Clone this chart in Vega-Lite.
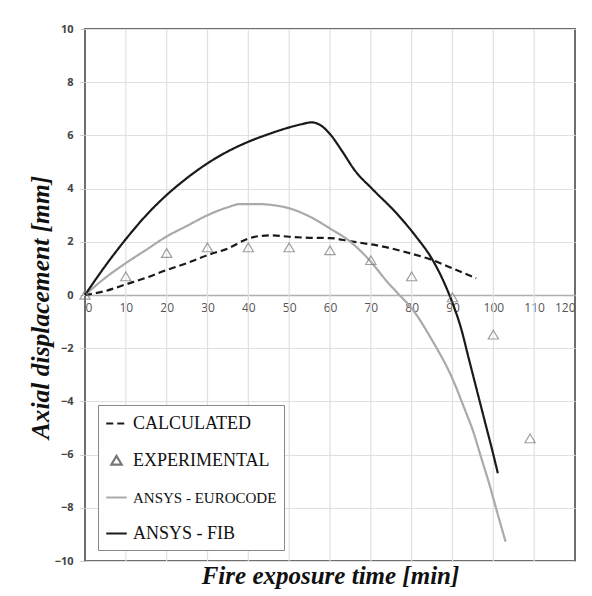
{
  "$schema": "https://vega.github.io/schema/vega-lite/v6.json",
  "width": 490,
  "height": 532,
  "autosize": {"type": "none"},
  "padding": {"left": 85, "top": 29, "right": 17, "bottom": 35},
  "background": "white",
  "config": {
    "view": {"stroke": "#6e6e6e", "strokeWidth": 2},
    "axis": {"gridColor": "#e0e0e0", "gridWidth": 1.2}
  },
  "datasets": {
    "xticks": [
      {"t": 10}, {"t": 20}, {"t": 30}, {"t": 40}, {"t": 50}, {"t": 60},
      {"t": 70}, {"t": 80}, {"t": 90}, {"t": 100}, {"t": 110}
    ],
    "curves": [
      {"series": "CALCULATED", "t": 0, "d": 0},
      {"series": "CALCULATED", "t": 5, "d": 0.15},
      {"series": "CALCULATED", "t": 10, "d": 0.4},
      {"series": "CALCULATED", "t": 15, "d": 0.65},
      {"series": "CALCULATED", "t": 20, "d": 0.94},
      {"series": "CALCULATED", "t": 25, "d": 1.2},
      {"series": "CALCULATED", "t": 30, "d": 1.5},
      {"series": "CALCULATED", "t": 35, "d": 1.75},
      {"series": "CALCULATED", "t": 40, "d": 2.12},
      {"series": "CALCULATED", "t": 43, "d": 2.22},
      {"series": "CALCULATED", "t": 46, "d": 2.24},
      {"series": "CALCULATED", "t": 50, "d": 2.19},
      {"series": "CALCULATED", "t": 55, "d": 2.15},
      {"series": "CALCULATED", "t": 60, "d": 2.14},
      {"series": "CALCULATED", "t": 65, "d": 2.02},
      {"series": "CALCULATED", "t": 73, "d": 1.82},
      {"series": "CALCULATED", "t": 80, "d": 1.55},
      {"series": "CALCULATED", "t": 85, "d": 1.32},
      {"series": "CALCULATED", "t": 90, "d": 1.0},
      {"series": "CALCULATED", "t": 95.8, "d": 0.63},
      {"series": "EXPERIMENTAL", "t": 0, "d": 0},
      {"series": "EXPERIMENTAL", "t": 10, "d": 0.69},
      {"series": "EXPERIMENTAL", "t": 20, "d": 1.57},
      {"series": "EXPERIMENTAL", "t": 30, "d": 1.78},
      {"series": "EXPERIMENTAL", "t": 40, "d": 1.78},
      {"series": "EXPERIMENTAL", "t": 50, "d": 1.78},
      {"series": "EXPERIMENTAL", "t": 60, "d": 1.67},
      {"series": "EXPERIMENTAL", "t": 70, "d": 1.3},
      {"series": "EXPERIMENTAL", "t": 80, "d": 0.69},
      {"series": "EXPERIMENTAL", "t": 90, "d": -0.1},
      {"series": "EXPERIMENTAL", "t": 100, "d": -1.5},
      {"series": "EXPERIMENTAL", "t": 109, "d": -5.4},
      {"series": "ANSYS - EUROCODE", "t": 0, "d": 0},
      {"series": "ANSYS - EUROCODE", "t": 5, "d": 0.65},
      {"series": "ANSYS - EUROCODE", "t": 10, "d": 1.2},
      {"series": "ANSYS - EUROCODE", "t": 15, "d": 1.7},
      {"series": "ANSYS - EUROCODE", "t": 20, "d": 2.2},
      {"series": "ANSYS - EUROCODE", "t": 25, "d": 2.6},
      {"series": "ANSYS - EUROCODE", "t": 30, "d": 3.0},
      {"series": "ANSYS - EUROCODE", "t": 35, "d": 3.3},
      {"series": "ANSYS - EUROCODE", "t": 38, "d": 3.42},
      {"series": "ANSYS - EUROCODE", "t": 42, "d": 3.42},
      {"series": "ANSYS - EUROCODE", "t": 46, "d": 3.38},
      {"series": "ANSYS - EUROCODE", "t": 50, "d": 3.26},
      {"series": "ANSYS - EUROCODE", "t": 55, "d": 2.95},
      {"series": "ANSYS - EUROCODE", "t": 60, "d": 2.5},
      {"series": "ANSYS - EUROCODE", "t": 65, "d": 2.0},
      {"series": "ANSYS - EUROCODE", "t": 70, "d": 1.25},
      {"series": "ANSYS - EUROCODE", "t": 74, "d": 0.5},
      {"series": "ANSYS - EUROCODE", "t": 77, "d": 0},
      {"series": "ANSYS - EUROCODE", "t": 80, "d": -0.5},
      {"series": "ANSYS - EUROCODE", "t": 85, "d": -1.7},
      {"series": "ANSYS - EUROCODE", "t": 90, "d": -3.15},
      {"series": "ANSYS - EUROCODE", "t": 93, "d": -4.3},
      {"series": "ANSYS - EUROCODE", "t": 95, "d": -5.1},
      {"series": "ANSYS - EUROCODE", "t": 97, "d": -6.1},
      {"series": "ANSYS - EUROCODE", "t": 99, "d": -7.1},
      {"series": "ANSYS - EUROCODE", "t": 101, "d": -8.2},
      {"series": "ANSYS - EUROCODE", "t": 103, "d": -9.27},
      {"series": "ANSYS - FIB", "t": 0, "d": 0},
      {"series": "ANSYS - FIB", "t": 5, "d": 1.1},
      {"series": "ANSYS - FIB", "t": 10, "d": 2.1},
      {"series": "ANSYS - FIB", "t": 15, "d": 3.0},
      {"series": "ANSYS - FIB", "t": 20, "d": 3.76},
      {"series": "ANSYS - FIB", "t": 25, "d": 4.4},
      {"series": "ANSYS - FIB", "t": 30, "d": 4.95},
      {"series": "ANSYS - FIB", "t": 35, "d": 5.4},
      {"series": "ANSYS - FIB", "t": 40, "d": 5.76},
      {"series": "ANSYS - FIB", "t": 45, "d": 6.05},
      {"series": "ANSYS - FIB", "t": 50, "d": 6.3},
      {"series": "ANSYS - FIB", "t": 53, "d": 6.42},
      {"series": "ANSYS - FIB", "t": 55.5, "d": 6.49},
      {"series": "ANSYS - FIB", "t": 57.5, "d": 6.4},
      {"series": "ANSYS - FIB", "t": 60, "d": 6.05},
      {"series": "ANSYS - FIB", "t": 63, "d": 5.4},
      {"series": "ANSYS - FIB", "t": 66, "d": 4.7},
      {"series": "ANSYS - FIB", "t": 70.6, "d": 3.95},
      {"series": "ANSYS - FIB", "t": 76.3, "d": 3.07},
      {"series": "ANSYS - FIB", "t": 81.1, "d": 2.19},
      {"series": "ANSYS - FIB", "t": 85, "d": 1.35},
      {"series": "ANSYS - FIB", "t": 88, "d": 0.45},
      {"series": "ANSYS - FIB", "t": 90, "d": -0.3},
      {"series": "ANSYS - FIB", "t": 92, "d": -1.2},
      {"series": "ANSYS - FIB", "t": 94, "d": -2.4},
      {"series": "ANSYS - FIB", "t": 96, "d": -3.6},
      {"series": "ANSYS - FIB", "t": 98, "d": -4.8},
      {"series": "ANSYS - FIB", "t": 100, "d": -6.0},
      {"series": "ANSYS - FIB", "t": 101.1, "d": -6.7}
    ]
  },
  "data": {"name": "curves"},
  "encoding": {
    "x": {
      "field": "t", "type": "quantitative",
      "scale": {"domain": [0, 120], "nice": false, "zero": false},
      "axis": {
        "values": [0, 10, 20, 30, 40, 50, 60, 70, 80, 90, 100, 110, 120],
        "orient": "bottom", "offset": -266, "grid": false,
        "domain": true, "domainColor": "#b0b0b0", "domainWidth": 1.5,
        "ticks": false, "labelPadding": 7,
        "labelFont": "Open Sans", "labelFontSize": 12, "labelColor": "#555555",
        "title": "Fire exposure time [min]",
        "titleFont": "Liberation Serif", "titleFontStyle": "italic", "titleFontWeight": "bold",
        "titleFontSize": 25, "titleColor": "#111111",
        "titleY": 288, "titleBaseline": "alphabetic"
      }
    }
  },
  "layer": [
    {
      "data": {"name": "xticks"},
      "mark": {"type": "rule", "color": "#e0e0e0", "strokeWidth": 1.2},
      "encoding": {}
    },
    {
      "mark": {"type": "line", "strokeWidth": 2.2, "interpolate": "monotone"},
      "transform": [{"filter": "datum.series !== 'EXPERIMENTAL'"}],
      "encoding": {
        "y": {
          "field": "d", "type": "quantitative",
          "scale": {"domain": [-10, 10], "nice": false},
          "axis": {
            "values": [-10, -8, -6, -4, -2, 0, 2, 4, 6, 8, 10],
            "grid": true, "domain": false, "ticks": true, "tickSize": 5, "tickColor": "#c8c8c8",
            "labelPadding": 7, "labelFont": "Open Sans", "labelFontWeight": "bold",
            "labelFontSize": 11, "labelColor": "#444444",
            "title": "Axial displacement [mm]",
            "titleFont": "Liberation Serif", "titleFontStyle": "italic", "titleFontWeight": "bold",
            "titleFontSize": 25.5, "titleColor": "#111111",
            "titleX": -45, "titleY": 278, "titleBaseline": "middle", "titleAngle": -90
          }
        },
        "color": {
          "field": "series", "type": "nominal",
          "scale": {
            "domain": ["CALCULATED", "EXPERIMENTAL", "ANSYS - EUROCODE", "ANSYS - FIB"],
            "range": ["#1a1a1a", "#777777", "#aaaaaa", "#1a1a1a"]
          },
          "legend": {
            "title": null, "orient": "none", "legendX": 13, "legendY": 376,
            "strokeColor": "#888888", "fillColor": "white", "padding": 7,
            "rowPadding": 16, "labelFont": "Liberation Serif", "labelFontSize": 18,
            "labelColor": "#111111", "symbolSize": 420, "symbolStrokeWidth": 2.2,
            "labelOffset": 5, "labelLimit": 300,
            "encode": {
              "labels": {
                "update": {
                  "fontSize": {"signal": "datum.label === 'ANSYS - EUROCODE' ? 15 : 18"}
                }
              }
            }
          }
        },
        "strokeDash": {
          "field": "series", "type": "nominal",
          "scale": {
            "domain": ["CALCULATED", "EXPERIMENTAL", "ANSYS - EUROCODE", "ANSYS - FIB"],
            "range": [[7, 4], [1, 0], [1, 0], [1, 0]]
          },
          "legend": null
        },
        "detail": {"field": "series"}
      }
    },
    {
      "mark": {"type": "point", "filled": false, "size": 420, "strokeWidth": 1.2},
      "transform": [{"filter": "datum.series === 'EXPERIMENTAL'"}],
      "encoding": {
        "y": {"field": "d", "type": "quantitative"},
        "color": {"field": "series", "type": "nominal"},
        "shape": {
          "field": "series", "type": "nominal",
          "scale": {
            "domain": ["CALCULATED", "EXPERIMENTAL", "ANSYS - EUROCODE", "ANSYS - FIB"],
            "range": ["stroke", "M0,-0.45L0.5,0.4L-0.5,0.4Z", "stroke", "stroke"]
          }
        }
      }
    }
  ]
}
